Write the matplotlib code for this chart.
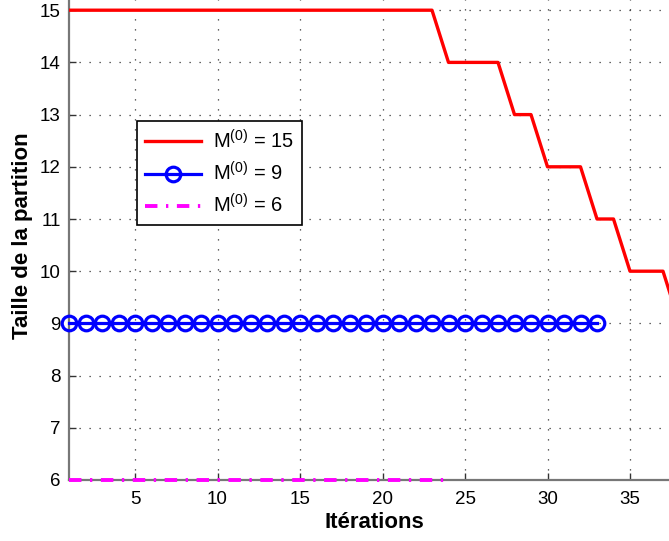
import matplotlib
matplotlib.use("Agg")
import matplotlib.pyplot as plt
import numpy as np

plt.rcParams['font.family'] = ['Liberation Sans', 'DejaVu Sans']
plt.rcParams['mathtext.fontset'] = 'custom'
plt.rcParams['mathtext.rm'] = 'Liberation Sans'
plt.rcParams['mathtext.it'] = 'Liberation Sans:italic'

# Data
iter_15 = list(range(1, 39))
size_15 = [15]*23 + [14]*4 + [13]*2 + [12]*3 + [11]*2 + [10]*3 + [9]
iter_9 = list(range(1, 34))
size_9 = [9]*33
iter_6 = list(range(1, 25))
size_6 = [6]*24

labels = ['M$^{(0)}$ = 15', 'M$^{(0)}$ = 9', 'M$^{(0)}$ = 6']
xticks = [5, 10, 15, 20, 25, 30, 35]
yticks = [6, 7, 8, 9, 10, 11, 12, 13, 14, 15]

fig = plt.figure(figsize=(6.69, 5.41), dpi=100)
# axes extends beyond the top and right edges of the figure (cropped view)
ax = fig.add_axes([69/669, 61/541, 610.5/669, 522/541])

ax.plot(iter_15, size_15, color='#ff0000', lw=2.4, label=labels[0], zorder=3)
ax.plot(iter_9, size_9, color='#0000ff', lw=2.3, marker='o', ms=10.5,
        mfc='none', mec='#0000ff', mew=2.3, label=labels[1], zorder=3, clip_on=False)
ax.plot(iter_6, size_6, color='#ff00ff', lw=2.8, linestyle=(0, (3.2, 2.2, 0.6, 2.2)),
        label=labels[2], zorder=4, clip_on=False)

ax.set_xlim(1, 38)
ax.set_ylim(6, 16)
ax.set_xticks(xticks)
ax.set_yticks(yticks)
ax.tick_params(direction='in', length=5, width=1, labelsize=13.5, color='#333333')
ax.tick_params(axis='x', pad=8)
ax.tick_params(axis='y', pad=6)
for s in ax.spines.values():
    s.set_color('#777777')
    s.set_linewidth(1.6)

ax.grid(True, color='#333333', linestyle=(0, (1, 7)), linewidth=0.9)
ax.set_axisbelow(True)

ax.set_xlabel('Itérations', fontsize=16, fontweight='bold', labelpad=3)
ax.set_ylabel('Taille de la partition', fontsize=16, fontweight='bold')
ax.yaxis.set_label_coords((33 - 69) / 610.5, (541 - 236 - 61) / 522)

leg = ax.legend(loc='upper left', bbox_to_anchor=(0.111, 1 - (121 - 10 + 52.2) / 522),
                borderaxespad=0,
                fontsize=14.5, numpoints=1, handlelength=2.8, handletextpad=0.6,
                labelspacing=0.45, fancybox=False, framealpha=1, edgecolor='black',
                borderpad=0.4)
leg.get_frame().set_linewidth(1.2)

fig.savefig('out.png', dpi=100)
